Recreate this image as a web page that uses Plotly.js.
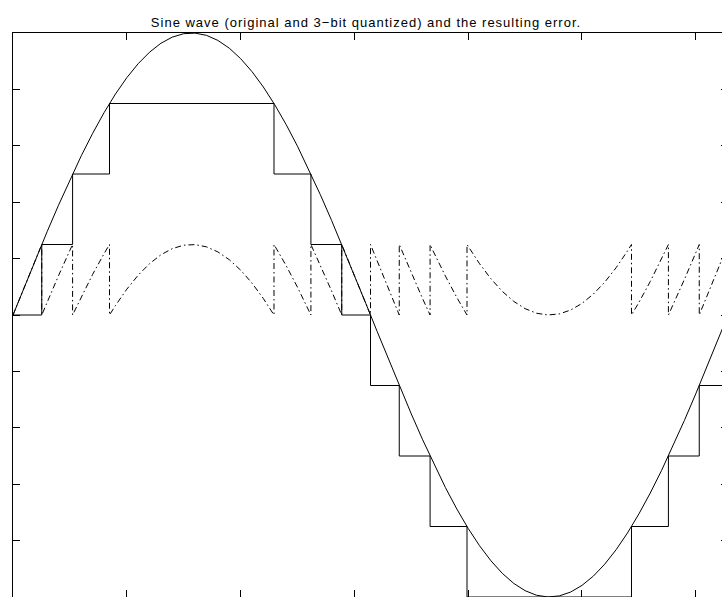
<!DOCTYPE html>
<html>
<head>
<meta charset="utf-8">
<script src="https://cdn.plot.ly/plotly-3.0.1.min.js"></script>
<style>
  html, body { margin: 0; padding: 0; overflow: hidden; background: #fff; }
  #chart { width: 738px; height: 607px; }
  #chart .gtitle { letter-spacing: 1px; }
</style>
</head>
<body>
<div id="chart"></div>
<script>
// Original sine wave samples (time in radians, value)
var sineT = [0,0.1,0.2,0.3,0.4,0.5,0.6,0.7,0.8,0.9,1.0,1.1,1.2,1.3,1.4,1.5,1.6,1.7,1.8,1.9,2.0,
  2.1,2.2,2.3,2.4,2.5,2.6,2.7,2.8,2.9,3.0,3.1,3.2,3.3,3.4,3.5,3.6,3.7,3.8,3.9,4.0,
  4.1,4.2,4.3,4.4,4.5,4.6,4.7,4.8,4.9,5.0,5.1,5.2,5.3,5.4,5.5,5.6,5.7,5.8,5.9,6.0,
  6.1,6.2,6.2832];
var sineV = [0,0.0998,0.1987,0.2955,0.3894,0.4794,0.5646,0.6442,0.7174,0.7833,0.8415,
  0.8912,0.9320,0.9636,0.9854,0.9975,0.9996,0.9917,0.9738,0.9463,0.9093,
  0.8632,0.8085,0.7457,0.6755,0.5985,0.5155,0.4274,0.3350,0.2392,0.1411,
  0.0416,-0.0584,-0.1577,-0.2555,-0.3508,-0.4425,-0.5298,-0.6119,-0.6878,-0.7568,
  -0.8183,-0.8716,-0.9162,-0.9516,-0.9775,-0.9937,-0.9999,-0.9962,-0.9825,-0.9589,
  -0.9258,-0.8835,-0.8323,-0.7728,-0.7055,-0.6313,-0.5507,-0.4646,-0.3739,-0.2794,
  -0.1822,-0.0831,0];

// 3-bit quantized signal: step start times and levels
var quantT = [0,0.2527,0.5236,0.8481,2.2935,2.6180,2.8889,3.1416,3.3943,3.6652,3.9897,5.4351,5.7596,6.0305,6.2832];
var quantV = [0,0.25,0.5,0.75,0.5,0.25,0,-0.25,-0.5,-0.75,-1,-0.75,-0.5,-0.25,-0.25];

// Quantization error (original minus quantized)
var errT = [0,0.1,0.2,0.2527, 0.2527,0.3,0.4,0.5,0.5236, 0.5236,0.6,0.7,0.8,0.8481,
  0.8481,0.9,1.0,1.1,1.2,1.3,1.4,1.5,1.6,1.7,1.8,1.9,2.0,2.1,2.2,2.2935,
  2.2935,2.3,2.4,2.5,2.6,2.6180, 2.6180,2.7,2.8,2.8889, 2.8889,2.9,3.0,3.1,3.1416,
  3.1416,3.2,3.3,3.3943, 3.3943,3.4,3.5,3.6,3.6652, 3.6652,3.7,3.8,3.9,3.9897,
  3.9897,4.0,4.1,4.2,4.3,4.4,4.5,4.6,4.7,4.8,4.9,5.0,5.1,5.2,5.3,5.4,5.4351,
  5.4351,5.5,5.6,5.7,5.7596, 5.7596,5.8,5.9,6.0,6.0305, 6.0305,6.1,6.2,6.2832];
var errV = [0,0.0998,0.1987,0.25, 0,0.0455,0.1394,0.2294,0.25, 0,0.0646,0.1442,0.2174,0.25,
  0,0.0333,0.0915,0.1412,0.1820,0.2136,0.2354,0.2475,0.2496,0.2417,0.2238,0.1963,0.1593,0.1132,0.0585,0,
  0.25,0.2457,0.1755,0.0985,0.0155,0, 0.25,0.1774,0.0850,0, 0.25,0.2392,0.1411,0.0416,0,
  0.25,0.1916,0.0923,0, 0.25,0.2445,0.1492,0.0575,0, 0.25,0.2202,0.1381,0.0622,0,
  0.25,0.2432,0.1817,0.1284,0.0838,0.0484,0.0225,0.0063,0.0001,0.0038,0.0175,0.0411,0.0742,0.1165,0.1677,0.2272,0.25,
  0,0.0445,0.1187,0.1993,0.25, 0,0.0354,0.1261,0.2206,0.25, 0,0.0678,0.1669,0.25];

var xTicks = [0,1,2,3,4,5,6];
var yTicks = [-1,-0.8,-0.6,-0.4,-0.2,0,0.2,0.4,0.6,0.8,1];

var traces = [
  {x: sineT, y: sineV, type: 'scatter', mode: 'lines',
   line: {color: '#000', width: 1}, hoverinfo: 'skip'},
  {x: quantT, y: quantV, type: 'scatter', mode: 'lines',
   line: {color: '#000', width: 1, shape: 'hv'}, hoverinfo: 'skip'},
  {x: errT, y: errV, type: 'scatter', mode: 'lines',
   line: {color: '#000', width: 1, dash: '6px,3px,1.5px,3px'}, hoverinfo: 'skip'}
];

var axisCommon = {
  showgrid: false, zeroline: false, showline: true, linecolor: '#000', linewidth: 1,
  mirror: 'ticks', ticks: 'inside', ticklen: 7, tickwidth: 1, tickcolor: '#000',
  showticklabels: false, fixedrange: true
};

var layout = {
  width: 738, height: 607,
  margin: {l: 13, r: 10, t: 33, b: 10, pad: 0},
  paper_bgcolor: '#fff', plot_bgcolor: '#fff',
  showlegend: false,
  title: {
    text: 'Sine wave (original and 3\u2212bit quantized) and the resulting error.',
    font: {family: 'Liberation Sans, Arial, Helvetica, sans-serif', size: 13, color: '#000'},
    x: 366 / 738, xref: 'container', xanchor: 'center',
    y: 1 - 22 / 607, yref: 'container', yanchor: 'middle'
  },
  xaxis: Object.assign({}, axisCommon, {range: [0, 2 * Math.PI], tickmode: 'array', tickvals: xTicks}),
  yaxis: Object.assign({}, axisCommon, {range: [-1, 1], tickmode: 'array', tickvals: yTicks})
};

Plotly.newPlot('chart', traces, layout, {staticPlot: true, displayModeBar: false});
</script>
</body>
</html>
